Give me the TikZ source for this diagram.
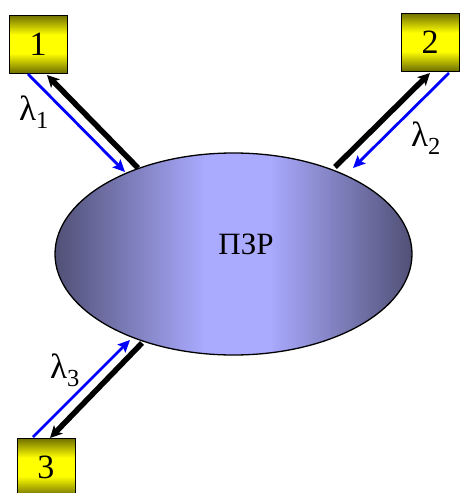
\documentclass[tikz,border=0pt]{standalone}
\usepackage{fontspec}
\setmainfont{Liberation Serif}
\usetikzlibrary{shapes.geometric,arrows.meta}
\definecolor{ovaldark}{RGB}{80,80,118}
\definecolor{ovallight}{RGB}{170,170,255}
\definecolor{boxdark}{RGB}{110,110,0}
\definecolor{boxlight}{RGB}{255,255,0}
\pgfdeclarehorizontalshading{ovalshade}{100bp}{color(0bp)=(ovaldark); color(25bp)=(ovaldark); color(46bp)=(ovallight); color(55bp)=(ovallight); color(75bp)=(ovaldark); color(100bp)=(ovaldark)}
\pgfdeclareverticalshading{boxshade}{100bp}{color(0bp)=(boxdark); color(25bp)=(boxdark); color(42bp)=(boxlight); color(58bp)=(boxlight); color(75bp)=(boxdark); color(100bp)=(boxdark)}
\tikzset{
  termbox/.style={draw=black, line width=0.9pt, minimum size=58pt, inner sep=0pt,
    shading=boxshade, font=\fontsize{34}{34}\selectfont},
  oval/.style={ellipse, draw=black, line width=1.3pt, minimum width=357pt, minimum height=202pt,
    inner sep=0pt, shading=ovalshade},
  blackarrow/.style={line width=5.5pt, draw=black, -{Stealth[length=12pt, width=12pt, inset=3pt]}},
  bluearrow/.style={line width=2.8pt, draw=blue, -{Stealth[length=12pt, width=11pt, inset=2pt]}},
  lam/.style={font=\fontsize{35}{35}\selectfont, inner sep=0pt}
}
\begin{document}
\begin{tikzpicture}[x=1pt, y=-1pt]
\useasboundingbox (0,0) rectangle (459,493);
\node[oval] (e) at (233.5,254) {};
\node[font=\fontsize{31}{31}\selectfont] (t) at (246,244) {ПЗР};
\node[termbox] (b1) at (38,44) {1};
\node[termbox] (b2) at (430,42) {2};
\node[termbox] (b3) at (46,467) {3};
% connector end points
\coordinate (k1s) at (138,168);
\coordinate (k1e) at (47,75);
\coordinate (u1s) at (28,74);
\coordinate (u1e) at (125,172);
\coordinate (k2s) at (335,167);
\coordinate (k2e) at (430,73);
\coordinate (u2s) at (449,73);
\coordinate (u2e) at (353,168);
\coordinate (k3s) at (142,343);
\coordinate (k3e) at (50,438);
\coordinate (u3s) at (33,437);
\coordinate (u3e) at (130,340);
\draw[blackarrow] (k1s) -- (k1e);
\draw[bluearrow] (u1s) -- (u1e);
\draw[blackarrow] (k2s) -- (k2e);
\draw[bluearrow] (u2s) -- (u2e);
\draw[blackarrow] (k3s) -- (k3e);
\draw[bluearrow] (u3s) -- (u3e);
\node[lam] (l1) at (34,112) {λ\textsubscript{1}};
\node[lam] (l2) at (426,138) {λ\textsubscript{2}};
\node[lam] (l3) at (65,370) {λ\textsubscript{3}};
\end{tikzpicture}
\end{document}
